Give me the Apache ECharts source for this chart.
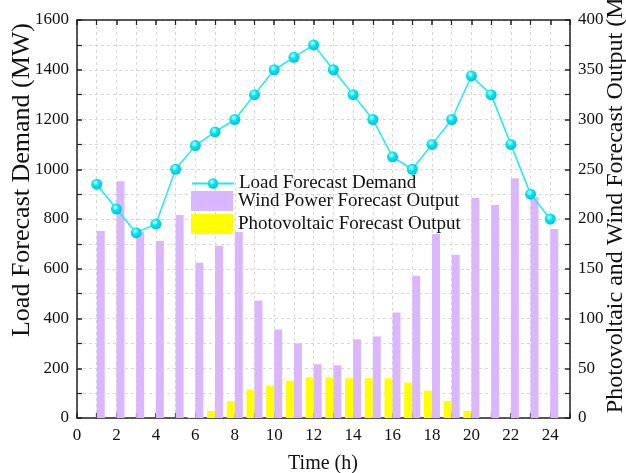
<!DOCTYPE html>
<html>
<head>
<meta charset="utf-8">
<script src="https://cdn.jsdelivr.net/npm/echarts@6/dist/echarts.min.js"></script>
<style>
html, body { margin: 0; padding: 0; background: #fff; }
#chart { width: 626px; height: 473px; }
</style>
</head>
<body>
<div id="chart"></div>
<script>
var hours = [1, 2, 3, 4, 5, 6, 7, 8, 9, 10, 11, 12, 13, 14, 15, 16, 17, 18, 19, 20, 21, 22, 23, 24]
// 负荷预测 MW
var loadDemand = [940, 840, 745, 780, 1000, 1095, 1150, 1200, 1300, 1400, 1450, 1500, 1400, 1300, 1200, 1050, 1000, 1100, 1200, 1375, 1300, 1100, 900, 800]
// 风电预测 MW
var windPower = [188, 238, 187, 178, 204, 156, 173, 187, 118, 89, 75, 54, 53, 79, 82, 106, 143, 185, 164, 221, 214, 241, 222, 190]
// 光伏预测 MW
var pvPower = [0, 0, 0, 0, 0, 1, 7, 17, 28.5, 32.5, 37.5, 41, 41, 40, 40, 40, 35.5, 27.5, 17, 7, 0, 0, 0, 0]

var pair = function(ys) {
    var out = []
    for (var i = 0; i < hours.length; i++) {
        out.push([hours[i], ys[i]])
    }
    return out
}

var font = 'Liberation Serif'
var black = '#222'
var gridLine = {
    show: true,
    lineStyle: { color: '#d9d9d9', type: [3, 3], width: 1 }
}
var tick = { show: true, inside: true, length: 5, lineStyle: { color: black, width: 1.5 } }
var minor = { show: true, splitNumber: 2, length: 5, lineStyle: { color: black, width: 1.2 } }
var label = { fontFamily: font, fontSize: 17, color: '#111' }
var legendText = { fontFamily: font, fontSize: 19, color: '#111' }

var option = {
    backgroundColor: '#fff',
    animation: false,
    textStyle: { fontFamily: font },
    grid: { left: 77, right: 56, top: 20, bottom: 55 },
    legend: [{
        left: 186,
        top: 169,
        itemWidth: 42,
        itemHeight: 13,
        textStyle: legendText,
        data: ['Load Forecast Demand']
    }, {
        orient: 'vertical',
        left: 186,
        top: 186,
        itemWidth: 42,
        itemHeight: 20,
        itemGap: 3,
        icon: 'rect',
        textStyle: legendText,
        data: ['Wind Power Forecast Output', 'Photovoltaic Forecast Output']
    }],
    graphic: [{
        type: 'text',
        x: 22,
        y: 180,
        rotation: Math.PI / 2,
        style: {
            text: 'Load Forecast Demand (MW)',
            font: '26px "Liberation Serif"',
            fill: '#111',
            align: 'center',
            verticalAlign: 'middle'
        }
    }, {
        type: 'text',
        x: 616,
        y: 190,
        rotation: Math.PI / 2,
        style: {
            text: 'Photovoltaic and Wind Forecast Output (MW)',
            font: '24px "Liberation Serif"',
            fill: '#111',
            align: 'center',
            verticalAlign: 'middle'
        }
    }, {
        type: 'text',
        x: 323,
        y: 464,
        style: {
            text: 'Time (h)',
            font: '20px "Liberation Serif"',
            fill: '#111',
            align: 'center',
            verticalAlign: 'middle'
        }
    }],
    xAxis: [{
        type: 'value',
        min: 0,
        max: 25,
        interval: 2,
        axisLine: { onZero: false, lineStyle: { color: black, width: 1.5 } },
        axisTick: tick,
        minorTick: minor,
        axisLabel: Object.assign({ margin: 9, showMaxLabel: false }, label),
        splitLine: gridLine,
        minorSplitLine: gridLine
    }, {
        type: 'value',
        position: 'top',
        min: 0,
        max: 25,
        interval: 2,
        axisLine: { show: true, onZero: false, lineStyle: { color: black, width: 1.5 } },
        axisTick: tick,
        minorTick: minor,
        axisLabel: { show: false },
        splitLine: { show: false }
    }],
    yAxis: [{
        type: 'value',
        min: 0,
        max: 1600,
        interval: 200,
        axisLine: { show: true, onZero: false, lineStyle: { color: black, width: 1.5 } },
        axisTick: tick,
        minorTick: minor,
        axisLabel: Object.assign({
            margin: 8,
            formatter: function(v) { return String(v) }
        }, label),
        splitLine: gridLine,
        minorSplitLine: gridLine
    }, {
        type: 'value',
        min: 0,
        max: 400,
        interval: 50,
        position: 'right',
        axisLine: { show: true, onZero: false, lineStyle: { color: black, width: 1.5 } },
        axisTick: tick,
        minorTick: minor,
        axisLabel: Object.assign({ margin: 8 }, label),
        splitLine: { show: false }
    }],
    series: [{
        // 光伏放左边
        name: 'Photovoltaic Forecast Output',
        type: 'bar',
        xAxisIndex: 0,
        yAxisIndex: 1,
        barWidth: 8,
        barGap: '0%',
        itemStyle: { color: '#ffff00' },
        data: pair(pvPower),
        z: 2
    }, {
        name: 'Wind Power Forecast Output',
        type: 'bar',
        xAxisIndex: 0,
        yAxisIndex: 1,
        barWidth: 8,
        barGap: '0%',
        itemStyle: { color: '#dab6fc' },
        data: pair(windPower),
        z: 2
    }, {
        name: 'Load Forecast Demand',
        type: 'line',
        xAxisIndex: 0,
        yAxisIndex: 0,
        symbol: 'circle',
        symbolSize: 11,
        lineStyle: { color: '#19ecf5', width: 1.5 },
        itemStyle: {
            color: {
                type: 'radial', x: 0.4, y: 0.35, r: 0.7,
                colorStops: [
                    { offset: 0, color: '#e0ffff' },
                    { offset: 0.4, color: '#00e8f6' },
                    { offset: 1, color: '#00bccc' }
                ]
            },
            borderWidth: 0
        },
        data: pair(loadDemand),
        z: 5
    }]
}

echarts.init(document.getElementById('chart')).setOption(option)
</script>
</body>
</html>
